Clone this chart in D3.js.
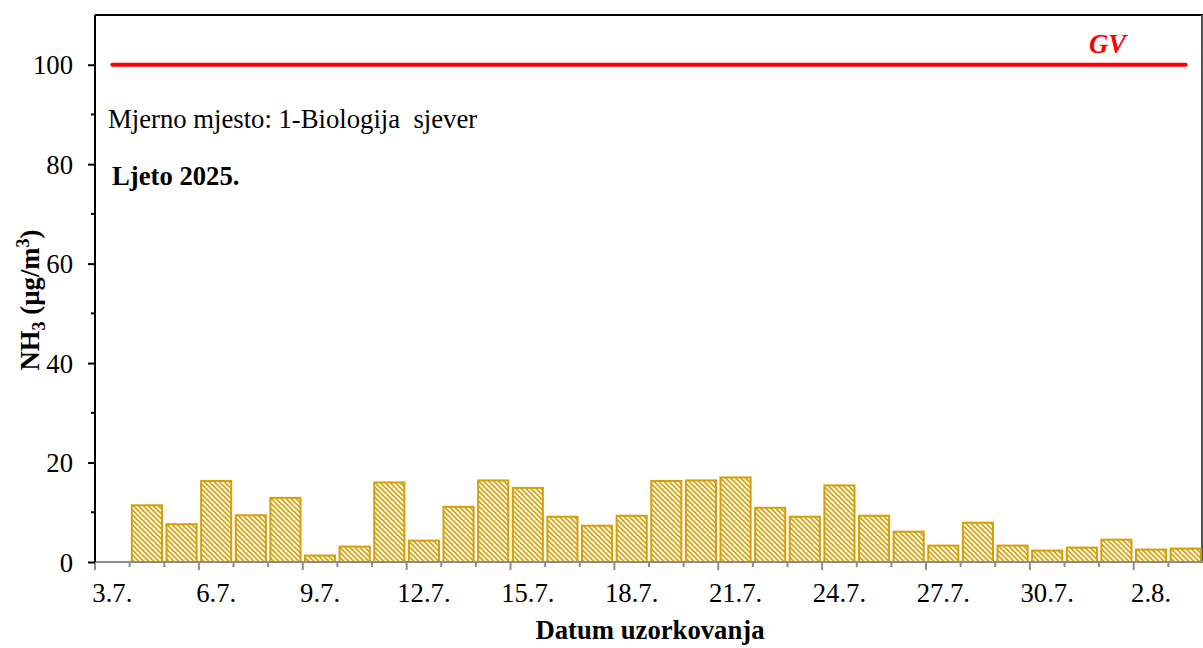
<!DOCTYPE html>
<html>
<head>
<meta charset="utf-8">
<style>
body { margin: 0; padding: 0; background: white; overflow: hidden; }
text { font-family: "Liberation Serif", "Times New Roman", serif; fill: #000; }
</style>
</head>
<body>
<script src="https://d3js.org/d3.v7.min.js"></script>
<script>
// sampling days (3.7. has no result)
var dates = ["3.7.", "4.7.", "5.7.", "6.7.", "7.7.", "8.7.", "9.7.", "10.7.", "11.7.", "12.7.",
    "13.7.", "14.7.", "15.7.", "16.7.", "17.7.", "18.7.", "19.7.", "20.7.", "21.7.", "22.7.",
    "23.7.", "24.7.", "25.7.", "26.7.", "27.7.", "28.7.", "29.7.", "30.7.", "31.7.", "1.8.",
    "2.8.", "3.8."];
var nh3 = [null, 11.4, 7.6, 16.3, 9.4, 12.9, 1.3, 3.1, 16.0, 4.3,
    11.1, 16.4, 14.9, 9.1, 7.3, 9.3, 16.3, 16.4, 17.0, 10.9,
    9.1, 15.4, 9.3, 6.1, 3.3, 7.9, 3.3, 2.3, 2.9, 4.5,
    2.5, 2.7];
var yTicks = [0, 20, 40, 60, 80, 100];
var yMinor = [10, 30, 50, 70, 90];
var gv = 100;

var fs = "26.7px";
var width = 1203, height = 648;
var margin = { top: 15, right: 0, bottom: 86, left: 95 };
var w = width - margin.left - margin.right,
    h = height - margin.top - margin.bottom;

var svg = d3.select("body").append("svg")
    .attr("width", width)
    .attr("height", height);

var defs = svg.append("defs");
var pat = defs.append("pattern")
    .attr("id", "hatch")
    .attr("patternUnits", "userSpaceOnUse")
    .attr("width", 5)
    .attr("height", 5);
pat.append("rect").attr("width", 5).attr("height", 5).attr("fill", "#D9A50F");
pat.append("path")
    .attr("d", "M-1,-1 L6,6 M-1,4 L1,6 M4,-1 L6,1")
    .attr("stroke", "white")
    .attr("stroke-width", 1.7);

var g = svg.append("g")
    .attr("transform", "translate(" + margin.left + "," + margin.top + ")");

var x = d3.scaleBand()
    .domain(dates)
    .range([0, w])
    .paddingInner(0.13)
    .paddingOuter(0.065);

var xb = d3.scaleBand().domain(dates).range([0, w]);

var y = d3.scaleLinear()
    .domain([0, 110])
    .range([h, 0]);

// frame (top and right)
g.append("line").attr("x1", 0).attr("x2", w).attr("y1", 0).attr("y2", 0)
    .attr("stroke", "#000").attr("stroke-width", 2);
g.append("line").attr("x1", w - 1).attr("x2", w - 1).attr("y1", 0).attr("y2", h)
    .attr("stroke", "#555").attr("stroke-width", 2);

// bars
g.selectAll(".bar")
    .data(dates.map(function(d, i) { return { date: d, v: nh3[i] }; }).filter(function(d) { return d.v != null; }))
    .enter().append("rect")
    .attr("class", "bar")
    .attr("x", function(d) { return x(d.date); })
    .attr("width", x.bandwidth())
    .attr("y", function(d) { return y(d.v); })
    .attr("height", function(d) { return h - y(d.v); })
    .attr("fill", "url(#hatch)")
    .attr("stroke", "#D4A00A")
    .attr("stroke-width", 2);

// x axis: minor ticks at every day, longer ones every third day
var xAxisG = g.append("g").attr("transform", "translate(0," + h + ")");
xAxisG.append("line").attr("x1", 0).attr("x2", w).attr("stroke", "#8c8c8c").attr("stroke-width", 2);
xAxisG.selectAll(".xt")
    .data(dates)
    .enter().append("line")
    .attr("x1", function(d) { return xb(d); })
    .attr("x2", function(d) { return xb(d); })
    .attr("y1", 0)
    .attr("y2", function(d, i) { return i % 3 == 0 ? 8 : 5; })
    .attr("stroke", "#8c8c8c")
    .attr("stroke-width", 2);
xAxisG.selectAll(".xl")
    .data(dates.filter(function(d, i) { return i % 3 == 0; }))
    .enter().append("text")
    .attr("x", function(d) { return xb(d) + xb.bandwidth() / 2; })
    .attr("y", 40)
    .attr("text-anchor", "middle")
    .style("font-size", fs)
    .text(function(d) { return d; });

// y axis
var yAxis = d3.axisLeft(y).tickValues(yTicks).tickSize(7).tickPadding(15);
var yG = g.append("g").call(yAxis);
yG.select(".domain").attr("stroke", "#000").attr("stroke-width", 2).attr("d", "M0," + h + "V0");
yG.selectAll(".tick line").attr("stroke", "#000").attr("stroke-width", 2);
yG.selectAll(".tick text").style("font-size", fs).attr("dy", "0.34em")
    .style("font-family", "'Liberation Serif', 'Times New Roman', serif");
g.append("g").selectAll("line")
    .data(yMinor)
    .enter().append("line")
    .attr("x1", -4).attr("x2", 0)
    .attr("y1", function(d) { return y(d); })
    .attr("y2", function(d) { return y(d); })
    .attr("stroke", "#000").attr("stroke-width", 2);

// limit value line
g.append("line")
    .attr("x1", xb(dates[0]) + xb.bandwidth() / 2)
    .attr("x2", xb(dates[dates.length - 1]) + xb.bandwidth() / 2)
    .attr("y1", y(gv))
    .attr("y2", y(gv))
    .attr("stroke", "#ff0000")
    .attr("stroke-width", 4)
    .attr("stroke-linecap", "round");
g.append("text")
    .attr("x", 994)
    .attr("y", 38)
    .style("font-size", fs)
    .style("font-weight", "bold")
    .style("font-style", "italic")
    .style("fill", "#ff0000")
    .text("GV");

// notes
g.append("text")
    .attr("x", 13)
    .attr("y", 113)
    .style("font-size", fs)
    .text("Mjerno mjesto: 1-Biologija\u00a0 sjever");
g.append("text")
    .attr("x", 17)
    .attr("y", 170)
    .style("font-size", fs)
    .style("font-weight", "bold")
    .text("Ljeto 2025.");

// axis titles
svg.append("text")
    .attr("x", 650)
    .attr("y", 639)
    .attr("text-anchor", "middle")
    .style("font-size", fs)
    .style("font-weight", "bold")
    .text("Datum uzorkovanja");

var yt = svg.append("text")
    .attr("transform", "translate(39,300) rotate(-90)")
    .attr("text-anchor", "middle")
    .style("font-size", fs)
    .style("font-weight", "bold");
yt.append("tspan").text("NH");
yt.append("tspan").attr("dy", 6).style("font-size", "18px").text("3");
yt.append("tspan").attr("dy", -6).text(" (µg/m");
yt.append("tspan").attr("dy", -10).style("font-size", "18px").text("3");
yt.append("tspan").attr("dy", 10).text(")");
</script>
</body>
</html>
